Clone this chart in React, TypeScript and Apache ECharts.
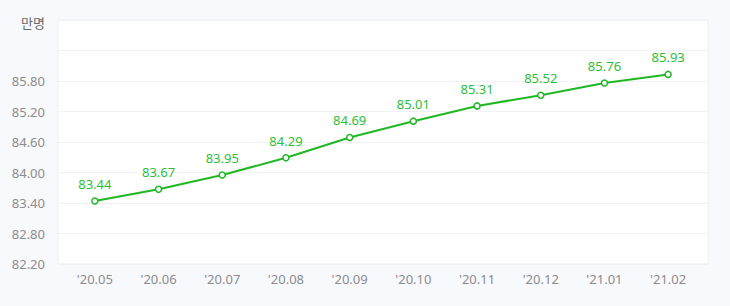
import React, { useEffect, useRef } from "react";
import * as echarts from "echarts";

const categories = ["'20.05", "'20.06", "'20.07", "'20.08", "'20.09", "'20.10", "'20.11", "'20.12", "'21.01", "'21.02"];
const values = [83.44, 83.67, 83.95, 84.29, 84.69, 85.01, 85.31, 85.52, 85.76, 85.93];
const yMin = 82.2;
const yMax = 87.0;
const yStep = 0.6;
const yLabelMax = 85.8;
const unitLabel = "만명";

const FONT = "'Noto Sans', 'Noto Sans CJK KR', sans-serif";

export default function App() {
  const ref = useRef<HTMLDivElement>(null);
  useEffect(() => {
    if (!ref.current) return;
    const chart = echarts.init(ref.current, undefined, { renderer: "svg" });
    chart.setOption({
      animation: false,
      textStyle: { fontFamily: FONT },
      graphic: [
        {
          type: "text",
          x: 45,
          y: 23,
          style: {
            text: unitLabel,
            x: 0,
            y: 0,
            align: "right",
            verticalAlign: "middle",
            fill: "#666",
            font: "13px " + FONT,
          },
        },
      ],
      grid: [
        { left: 58, right: 22, top: 20, bottom: 42, show: true, backgroundColor: "#ffffff", borderColor: "#eceff3", borderWidth: 1 },
        { left: 63, right: 30, top: 20, bottom: 42 },
      ],
      xAxis: [
        { type: "category", gridIndex: 0, data: categories, show: false },
        {
          type: "category",
          gridIndex: 1,
          data: categories,
          boundaryGap: true,
          axisLine: { show: false },
          axisTick: { show: false },
          axisLabel: { color: "#8c8c8c", fontSize: 13, margin: 8, fontFamily: FONT },
        },
      ],
      yAxis: [
        {
          type: "value",
          gridIndex: 0,
          min: yMin,
          max: yMax,
          interval: yStep,
          axisLine: { show: false },
          axisTick: { show: false },
          splitLine: { lineStyle: { color: "#f1f2f5", width: 1 } },
          axisLabel: {
            color: "#8c8c8c",
            fontSize: 13,
            margin: 13,
            fontFamily: FONT,
            formatter: (v: number) => (v <= yLabelMax + 1e-6 ? v.toFixed(2) : ""),
          },
        },
        { type: "value", gridIndex: 1, min: yMin, max: yMax, interval: yStep, show: false, splitLine: { show: false } },
      ],
      series: [
        {
          type: "line",
          xAxisIndex: 1,
          yAxisIndex: 1,
          data: values,
          symbol: "circle",
          symbolSize: 6,
          lineStyle: { color: "#1fb824", width: 2 },
          itemStyle: { color: "#ffffff", borderColor: "#1fb824", borderWidth: 1.5 },
          label: {
            show: true,
            position: "top",
            distance: 7,
            color: "#2cc03a",
            fontSize: 13,
            fontFamily: FONT,
            formatter: (p: any) => Number(p.value).toFixed(2),
          },
        },
      ],
    });
    return () => chart.dispose();
  }, []);
  return (
    <div style={{ position: "fixed", left: 0, top: 0, width: 730, height: 306, background: "#f8f9fc", overflow: "hidden" }}>
      <div ref={ref} style={{ position: "absolute", left: 0, top: 0, width: 730, height: 306 }} />
    </div>
  );
}
